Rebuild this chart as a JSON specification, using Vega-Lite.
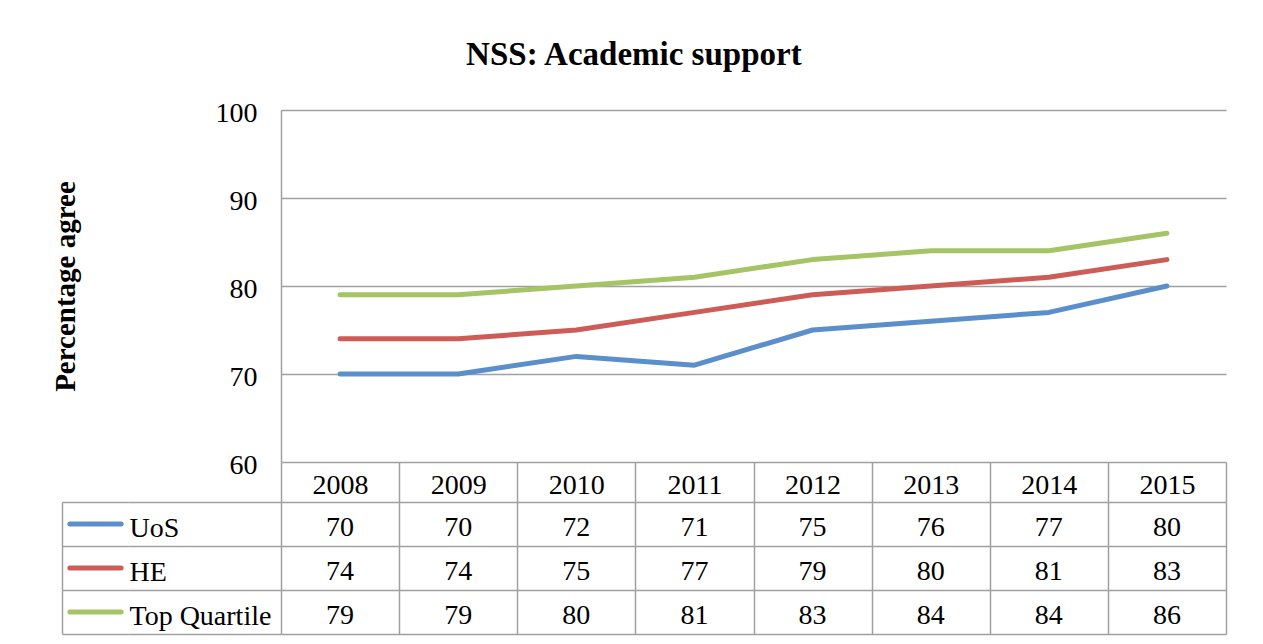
{
  "$schema": "https://vega.github.io/schema/vega-lite/v6.json",
  "padding": {"left": 51, "top": 39, "right": 5, "bottom": 5},
  "background": "white",
  "config": {"view": {"stroke": null}},
  "title": {"text": "NSS: Academic support", "font": "Liberation Serif", "fontSize": 33, "fontWeight": "bold", "color": "black", "anchor": "middle", "offset": 27, "dx": -5},
  "datasets": {
    "main": [
      {"year": "2008", "series": "UoS", "value": 70},
      {"year": "2009", "series": "UoS", "value": 70},
      {"year": "2010", "series": "UoS", "value": 72},
      {"year": "2011", "series": "UoS", "value": 71},
      {"year": "2012", "series": "UoS", "value": 75},
      {"year": "2013", "series": "UoS", "value": 76},
      {"year": "2014", "series": "UoS", "value": 77},
      {"year": "2015", "series": "UoS", "value": 80},
      {"year": "2008", "series": "HE", "value": 74},
      {"year": "2009", "series": "HE", "value": 74},
      {"year": "2010", "series": "HE", "value": 75},
      {"year": "2011", "series": "HE", "value": 77},
      {"year": "2012", "series": "HE", "value": 79},
      {"year": "2013", "series": "HE", "value": 80},
      {"year": "2014", "series": "HE", "value": 81},
      {"year": "2015", "series": "HE", "value": 83},
      {"year": "2008", "series": "Top Quartile", "value": 79},
      {"year": "2009", "series": "Top Quartile", "value": 79},
      {"year": "2010", "series": "Top Quartile", "value": 80},
      {"year": "2011", "series": "Top Quartile", "value": 81},
      {"year": "2012", "series": "Top Quartile", "value": 83},
      {"year": "2013", "series": "Top Quartile", "value": 84},
      {"year": "2014", "series": "Top Quartile", "value": 84},
      {"year": "2015", "series": "Top Quartile", "value": 86}
    ],
    "series": [
      {"series": "UoS"},
      {"series": "HE"},
      {"series": "Top Quartile"}
    ]
  },
  "columns": 3,
  "spacing": {"row": 40, "column": 0},
  "bounds": "flush",
  "concat": [
    {
      "width": 67, "height": 352,
      "data": {"name": "series"},
      "mark": {"type": "text", "text": ""},
      "encoding": {}
    },
    {
      "width": 152, "height": 352,
      "data": {"name": "series"},
      "mark": {"type": "text", "text": ""},
      "encoding": {}
    },
    {
      "width": 945, "height": 352,
      "data": {"name": "main"},
      "mark": {"type": "line", "strokeWidth": 5, "strokeCap": "round", "strokeJoin": "round"},
      "encoding": {
        "x": {"field": "year", "type": "ordinal", "scale": {"type": "point", "padding": 0.5}, "axis": null},
        "y": {
          "field": "value", "type": "quantitative",
          "scale": {"domain": [60, 100], "zero": false, "nice": false},
          "axis": {
            "values": [60, 70, 80, 90, 100],
            "title": "Percentage agree",
            "titleFont": "Liberation Serif", "titleFontSize": 29, "titleFontWeight": "bold", "titleColor": "black",
            "titlePadding": 135,
            "labelFont": "Liberation Serif", "labelFontSize": 28, "labelColor": "black",
            "labelPadding": 24, "labelBaseline": "middle", "labelOffset": 3,
            "ticks": false,
            "domain": true, "domainColor": "#A0A0A0", "domainWidth": 1.5,
            "grid": true, "gridColor": "#A0A0A0", "gridWidth": 1.5
          }
        },
        "color": {
          "field": "series", "type": "nominal",
          "scale": {"domain": ["UoS", "HE", "Top Quartile"], "range": ["#5A8FCB", "#CD5C57", "#A5C465"]},
          "legend": null
        }
      }
    },
    {
      "width": 67, "height": 132,
      "data": {"name": "series"},
      "mark": {"type": "point", "shape": "stroke", "filled": false, "size": 2632, "strokeWidth": 5, "strokeCap": "round", "opacity": 1},
      "encoding": {
        "y": {
          "field": "series", "type": "nominal",
          "sort": ["UoS", "HE", "Top Quartile"],
          "scale": {"type": "band", "paddingInner": 0, "paddingOuter": 0},
          "axis": {
            "title": null, "labels": false, "ticks": false,
            "domain": true, "domainColor": "#A0A0A0", "domainWidth": 1.5,
            "grid": true, "gridColor": "#A0A0A0", "gridWidth": 1.5, "tickBand": "extent"
          }
        },
        "color": {"field": "series", "type": "nominal", "legend": null}
      }
    },
    {
      "width": 152, "height": 132,
      "data": {"name": "series"},
      "mark": {"type": "text", "text": ""},
      "encoding": {
        "y": {
          "field": "series", "type": "nominal",
          "sort": ["UoS", "HE", "Top Quartile"],
          "scale": {"type": "band", "paddingInner": 0, "paddingOuter": 0},
          "axis": {
            "title": null, "ticks": false, "domain": false,
            "labelFont": "Liberation Serif", "labelFontSize": 28, "labelColor": "black",
            "labelAlign": "left", "labelPadding": 0, "labelBaseline": "middle", "labelOffset": 4,
            "grid": true, "gridColor": "#A0A0A0", "gridWidth": 1.5, "tickBand": "extent"
          }
        }
      }
    },
    {
      "width": 945, "height": 132,
      "data": {"name": "main"},
      "mark": {"type": "text", "font": "Liberation Serif", "fontSize": 28, "color": "black", "baseline": "middle", "dy": 4},
      "encoding": {
        "x": {
          "field": "year", "type": "ordinal",
          "scale": {"type": "band", "paddingInner": 0, "paddingOuter": 0},
          "axis": {
            "orient": "top", "title": null, "labelAngle": 0,
            "labelFont": "Liberation Serif", "labelFontSize": 28, "labelColor": "black",
            "labelBaseline": "alphabetic", "labelPadding": -31,
            "ticks": true, "tickSize": 40, "tickColor": "#A0A0A0", "tickWidth": 1.5, "tickBand": "extent",
            "domain": false,
            "grid": true, "gridColor": "#A0A0A0", "gridWidth": 1.5
          }
        },
        "y": {
          "field": "series", "type": "nominal",
          "sort": ["UoS", "HE", "Top Quartile"],
          "scale": {"type": "band", "paddingInner": 0, "paddingOuter": 0},
          "axis": {
            "title": null, "labels": false, "ticks": false, "domain": false,
            "grid": true, "gridColor": "#A0A0A0", "gridWidth": 1.5, "tickBand": "extent"
          }
        },
        "text": {"field": "value", "type": "quantitative"}
      }
    }
  ]
}
